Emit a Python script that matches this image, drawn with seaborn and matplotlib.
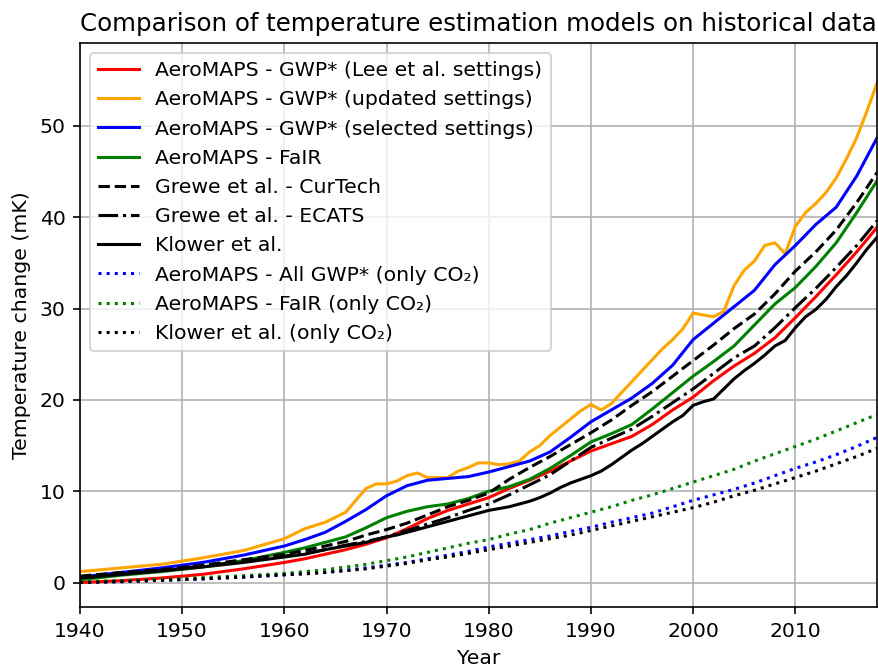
import matplotlib
matplotlib.use('Agg')
import matplotlib.pyplot as plt
import seaborn as sns

# ── Data (temperature change, mK) ──────────────────────────────────────
years = [1940, 1944, 1948, 1952, 1956, 1960, 1962, 1964, 1966, 1968,
         1970, 1972, 1974, 1976, 1978, 1980, 1982, 1984, 1986, 1988,
         1990, 1992, 1994, 1996, 1998, 2000, 2002, 2004, 2006, 2008,
         2010, 2012, 2014, 2016, 2018]

years_fine = [1940, 1944, 1948, 1952, 1956, 1960, 1962, 1964,
              1966, 1967, 1968, 1969, 1970, 1971, 1972, 1973, 1974, 1975,
              1976, 1977, 1978, 1979, 1980, 1981, 1982, 1983, 1984, 1985,
              1986, 1987, 1988, 1989, 1990, 1991, 1992, 1993, 1994, 1995,
              1996, 1997, 1998, 1999, 2000, 2001, 2002, 2003, 2004, 2005,
              2006, 2007, 2008, 2009, 2010, 2011, 2012, 2013, 2014, 2015,
              2016, 2017, 2018]

gwp_lee = [0.0, 0.2, 0.5, 0.9, 1.5, 2.2, 2.6, 3.1, 3.6, 4.2,
           4.9, 5.9, 7.0, 7.9, 8.6, 9.3, 10.3, 11.2, 12.2, 13.3,
           14.4, 15.2, 16.0, 17.3, 18.9, 20.3, 22.1, 23.7, 25.1, 26.8,
           29.0, 31.3, 33.7, 36.2, 38.9]

gwp_updated = [1.2, 1.6, 2.0, 2.7, 3.5, 4.8, 5.9, 6.6,
               7.7, 9.0, 10.3, 10.8, 10.8, 11.1, 11.7, 12.0, 11.5, 11.5,
               11.5, 12.2, 12.6, 13.1, 13.1, 12.9, 13.0, 13.3, 14.3, 15.0,
               16.1, 17.0, 17.9, 18.8, 19.5, 18.9, 19.6, 20.8, 22.0, 23.2,
               24.4, 25.6, 26.6, 27.8, 29.5, 29.3, 29.1, 29.7, 32.5, 34.2,
               35.2, 36.9, 37.2, 36.0, 39.0, 40.5, 41.5, 42.7, 44.3, 46.4,
               48.7, 51.6, 54.7]

gwp_selected = [0.6, 1.1, 1.6, 2.2, 3.0, 4.0, 4.7, 5.5, 6.7, 8.0,
                9.5, 10.6, 11.2, 11.4, 11.6, 12.1, 12.7, 13.3, 14.3, 15.9,
                17.6, 18.9, 20.2, 21.8, 23.8, 26.6, 28.4, 30.2, 32.0, 34.8,
                36.9, 39.2, 41.1, 44.5, 48.7]

fair = [0.3, 0.8, 1.2, 1.7, 2.4, 3.3, 3.8, 4.4, 5.0, 6.0,
        7.1, 7.8, 8.3, 8.6, 9.2, 10.0, 10.5, 11.3, 12.5, 13.9,
        15.4, 16.3, 17.3, 19.0, 20.8, 22.6, 24.2, 25.9, 28.2, 30.5,
        32.3, 34.6, 37.2, 40.5, 44.0]

grewe_curtech = [0.7, 1.1, 1.4, 1.9, 2.5, 3.1, 3.5, 4.0, 4.5, 5.2,
                 5.8, 6.5, 7.4, 8.3, 9.0, 9.8, 11.3, 12.6, 13.8, 15.1,
                 16.4, 17.8, 19.4, 20.9, 22.6, 24.3, 26.0, 27.8, 29.4, 31.6,
                 34.1, 36.2, 38.6, 41.6, 44.9]

grewe_ecats = [0.5, 0.9, 1.3, 1.8, 2.3, 2.9, 3.2, 3.6, 4.1, 4.5,
               5.0, 5.7, 6.4, 7.1, 7.9, 8.6, 9.6, 10.7, 11.8, 13.3,
               14.8, 15.8, 16.8, 18.2, 19.7, 21.2, 22.9, 24.6, 25.9, 27.9,
               30.1, 32.2, 34.5, 36.9, 39.6]

klower = [0.5, 0.9, 1.3, 1.7, 2.2, 2.8, 3.1, 3.6,
          4.0, 4.2, 4.4, 4.7, 5.0, 5.2, 5.5, 5.8, 6.1, 6.4,
          6.7, 7.0, 7.3, 7.6, 7.9, 8.1, 8.3, 8.6, 8.9, 9.3,
          9.8, 10.4, 10.9, 11.3, 11.7, 12.2, 12.9, 13.7, 14.5, 15.2,
          16.0, 16.8, 17.6, 18.3, 19.4, 19.8, 20.1, 21.2, 22.3, 23.2,
          24.0, 24.9, 25.9, 26.5, 27.9, 29.1, 29.9, 31.0, 32.4, 33.6,
          35.0, 36.5, 37.8]

gwp_co2 = [0.0, 0.1, 0.25, 0.4, 0.6, 0.85, 1.0, 1.15, 1.35, 1.6,
           1.9, 2.2, 2.6, 3.0, 3.4, 3.9, 4.3, 4.7, 5.1, 5.6,
           6.05, 6.6, 7.1, 7.6, 8.3, 9.0, 9.6, 10.2, 10.9, 11.7,
           12.5, 13.2, 14.0, 14.9, 15.9]

fair_co2 = [0.1, 0.2, 0.35, 0.55, 0.75, 1.0, 1.2, 1.4, 1.7, 2.0,
            2.4, 2.8, 3.3, 3.8, 4.3, 4.7, 5.3, 5.8, 6.5, 7.1,
            7.7, 8.3, 9.0, 9.6, 10.3, 11.0, 11.7, 12.4, 13.3, 14.1,
            14.9, 15.7, 16.6, 17.5, 18.4]

klower_co2 = [0.0, 0.1, 0.25, 0.4, 0.6, 0.85, 0.95, 1.1, 1.3, 1.5,
              1.8, 2.1, 2.5, 2.8, 3.2, 3.6, 4.0, 4.4, 4.8, 5.2,
              5.7, 6.2, 6.7, 7.2, 7.7, 8.2, 8.8, 9.5, 10.1, 10.8,
              11.5, 12.2, 13.0, 13.8, 14.7]

# ── Plot ─────────────────────────────────────────────────
DPI = 147
fig, ax = plt.subplots(figsize=(878 / DPI, 668 / DPI), dpi=DPI)
fig.subplots_adjust(left=0.091, right=0.999, top=0.936, bottom=0.091)

series = [
    (years, gwp_lee, 'red', '-', 'AeroMAPS - GWP* (Lee et al. settings)'),
    (years_fine, gwp_updated, 'orange', '-', 'AeroMAPS - GWP* (updated settings)'),
    (years, gwp_selected, 'blue', '-', 'AeroMAPS - GWP* (selected settings)'),
    (years, fair, 'green', '-', 'AeroMAPS - FaIR'),
    (years, grewe_curtech, 'black', '--', 'Grewe et al. - CurTech'),
    (years, grewe_ecats, 'black', '-.', 'Grewe et al. - ECATS'),
    (years_fine, klower, 'black', '-', 'Klower et al.'),
    (years, gwp_co2, 'blue', ':', 'AeroMAPS - All GWP* (only CO\u2082)'),
    (years, fair_co2, 'green', ':', 'AeroMAPS - FaIR (only CO\u2082)'),
    (years, klower_co2, 'black', ':', 'Klower et al. (only CO\u2082)'),
]

for xs, ys, col, ls, lab in series:
    sns.lineplot(x=xs, y=ys, ax=ax, color=col, linestyle=ls,
                 linewidth=1.5, label=lab)

ax.set_xlim(1940, 2018)
ax.set_ylim(-2.7, 59.1)
ax.set_title('Comparison of temperature estimation models on historical data')
ax.set_xlabel('Year')
ax.set_ylabel('Temperature change (mK)')
ax.grid(True)
ax.legend(loc='upper left')
plt.savefig('out.png', dpi=DPI)
